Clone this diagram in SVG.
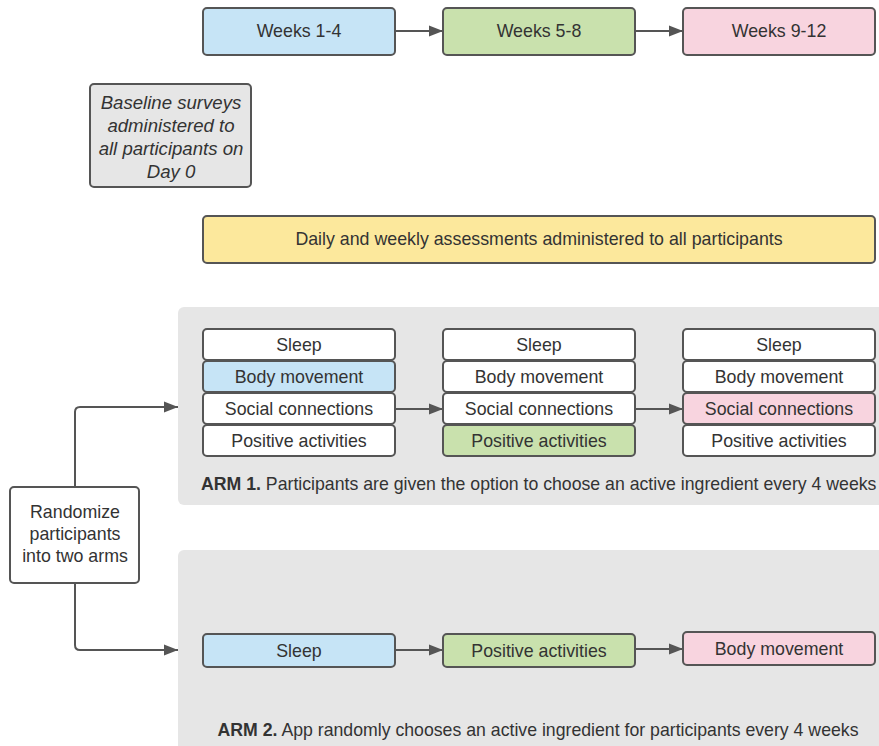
<svg xmlns="http://www.w3.org/2000/svg" width="879" height="746" viewBox="0 0 879 746">
<style>
.b{stroke:#555;stroke-width:2;}
.t{font-family:"Liberation Sans",Arial,sans-serif;font-size:17.8px;fill:#333;text-anchor:middle;dominant-baseline:central;}
.w{fill:#fff}.bl{fill:#c6e4f6}.gr{fill:#c9e1ad}.pk{fill:#f8d4df}.ye{fill:#fce89c}.gy{fill:#e6e6e6}
.c{fill:none;stroke:#555;stroke-width:2;}
.cap{font-family:"Liberation Sans",Arial,sans-serif;font-size:17.7px;fill:#333;}
</style>
<defs>
<marker id="ah" viewBox="0 0 10 10" refX="10" refY="5" markerWidth="14" markerHeight="14" markerUnits="userSpaceOnUse" orient="auto">
<path d="M0,1 L10,5 L0,9 z" fill="#555"/>
</marker>
</defs>
<rect width="879" height="746" fill="#fff"/>
<g id="arm1-panel"><rect x="178" y="307" width="720" height="198" rx="6" fill="#e6e6e6"/>
<text class="cap" x="201" y="490"><tspan font-weight="bold">ARM 1.</tspan> Participants are given the option to choose an active ingredient every 4 weeks</text></g>
<g id="arm2-panel"><rect x="178" y="550" width="720" height="220" rx="6" fill="#e6e6e6"/>
<text class="cap" x="538" y="736" text-anchor="middle"><tspan font-weight="bold">ARM 2.</tspan> App randomly chooses an active ingredient for participants every 4 weeks</text></g>

<g id="connectors">
<line class="c" x1="395" y1="31" x2="443" y2="31" marker-end="url(#ah)"/>
<line class="c" x1="635" y1="31" x2="683" y2="31" marker-end="url(#ah)"/>
<line class="c" x1="395" y1="409" x2="443" y2="409" marker-end="url(#ah)"/>
<line class="c" x1="635" y1="409" x2="683" y2="409" marker-end="url(#ah)"/>
<line class="c" x1="395" y1="650" x2="443" y2="650" marker-end="url(#ah)"/>
<line class="c" x1="635" y1="649" x2="683" y2="649" marker-end="url(#ah)"/>
<path class="c" d="M75,487 V412 Q75,407 80,407 H178" marker-end="url(#ah)"/>
<path class="c" d="M75,583 V645 Q75,650 80,650 H178" marker-end="url(#ah)"/>
</g>

<g id="weeks1-4"><rect class="b bl" x="203" y="8" width="192" height="47" rx="4"/><text class="t" x="299" y="31">Weeks 1-4</text></g>
<g id="weeks5-8"><rect class="b gr" x="443" y="8" width="192" height="47" rx="4"/><text class="t" x="539" y="31">Weeks 5-8</text></g>
<g id="weeks9-12"><rect class="b pk" x="683" y="8" width="192" height="47" rx="4"/><text class="t" x="779" y="31">Weeks 9-12</text></g>

<g id="baseline"><rect class="b gy" x="90" y="84" width="161" height="103" rx="4"/>
<text class="t" font-style="italic" style="font-size:18.6px"><tspan x="171" y="102">Baseline surveys</tspan><tspan x="171" y="125">administered to</tspan><tspan x="171" y="148">all participants on</tspan><tspan x="171" y="171">Day 0</tspan></text></g>

<g id="daily"><rect class="b ye" x="203" y="216" width="672" height="47" rx="4"/><text class="t" x="539" y="239">Daily and weekly assessments administered to all participants</text></g>

<g id="a1c1">
<rect class="b w" x="203" y="329" width="192" height="31" rx="4"/><text class="t" x="299" y="345">Sleep</text>
<rect class="b bl" x="203" y="361" width="192" height="31" rx="4"/><text class="t" x="299" y="377">Body movement</text>
<rect class="b w" x="203" y="393" width="192" height="31" rx="4"/><text class="t" x="299" y="409">Social connections</text>
<rect class="b w" x="203" y="425" width="192" height="31" rx="4"/><text class="t" x="299" y="441">Positive activities</text>
</g>
<g id="a1c2">
<rect class="b w" x="443" y="329" width="192" height="31" rx="4"/><text class="t" x="539" y="345">Sleep</text>
<rect class="b w" x="443" y="361" width="192" height="31" rx="4"/><text class="t" x="539" y="377">Body movement</text>
<rect class="b w" x="443" y="393" width="192" height="31" rx="4"/><text class="t" x="539" y="409">Social connections</text>
<rect class="b gr" x="443" y="425" width="192" height="31" rx="4"/><text class="t" x="539" y="441">Positive activities</text>
</g>
<g id="a1c3">
<rect class="b w" x="683" y="329" width="192" height="31" rx="4"/><text class="t" x="779" y="345">Sleep</text>
<rect class="b w" x="683" y="361" width="192" height="31" rx="4"/><text class="t" x="779" y="377">Body movement</text>
<rect class="b pk" x="683" y="393" width="192" height="31" rx="4"/><text class="t" x="779" y="409">Social connections</text>
<rect class="b w" x="683" y="425" width="192" height="31" rx="4"/><text class="t" x="779" y="441">Positive activities</text>
</g>

<g id="randomize"><rect class="b w" x="10" y="487" width="129" height="96" rx="4"/>
<text class="t"><tspan x="75" y="512">Randomize</tspan><tspan x="75" y="534">participants</tspan><tspan x="75" y="556">into two arms</tspan></text></g>

<g id="a2-sleep"><rect class="b bl" x="203" y="634" width="192" height="33" rx="4"/><text class="t" x="299" y="651">Sleep</text></g>
<g id="a2-positive"><rect class="b gr" x="443" y="634" width="192" height="33" rx="4"/><text class="t" x="539" y="651">Positive activities</text></g>
<g id="a2-body"><rect class="b pk" x="683" y="632" width="192" height="33" rx="4"/><text class="t" x="779" y="649">Body movement</text></g>
</svg>
